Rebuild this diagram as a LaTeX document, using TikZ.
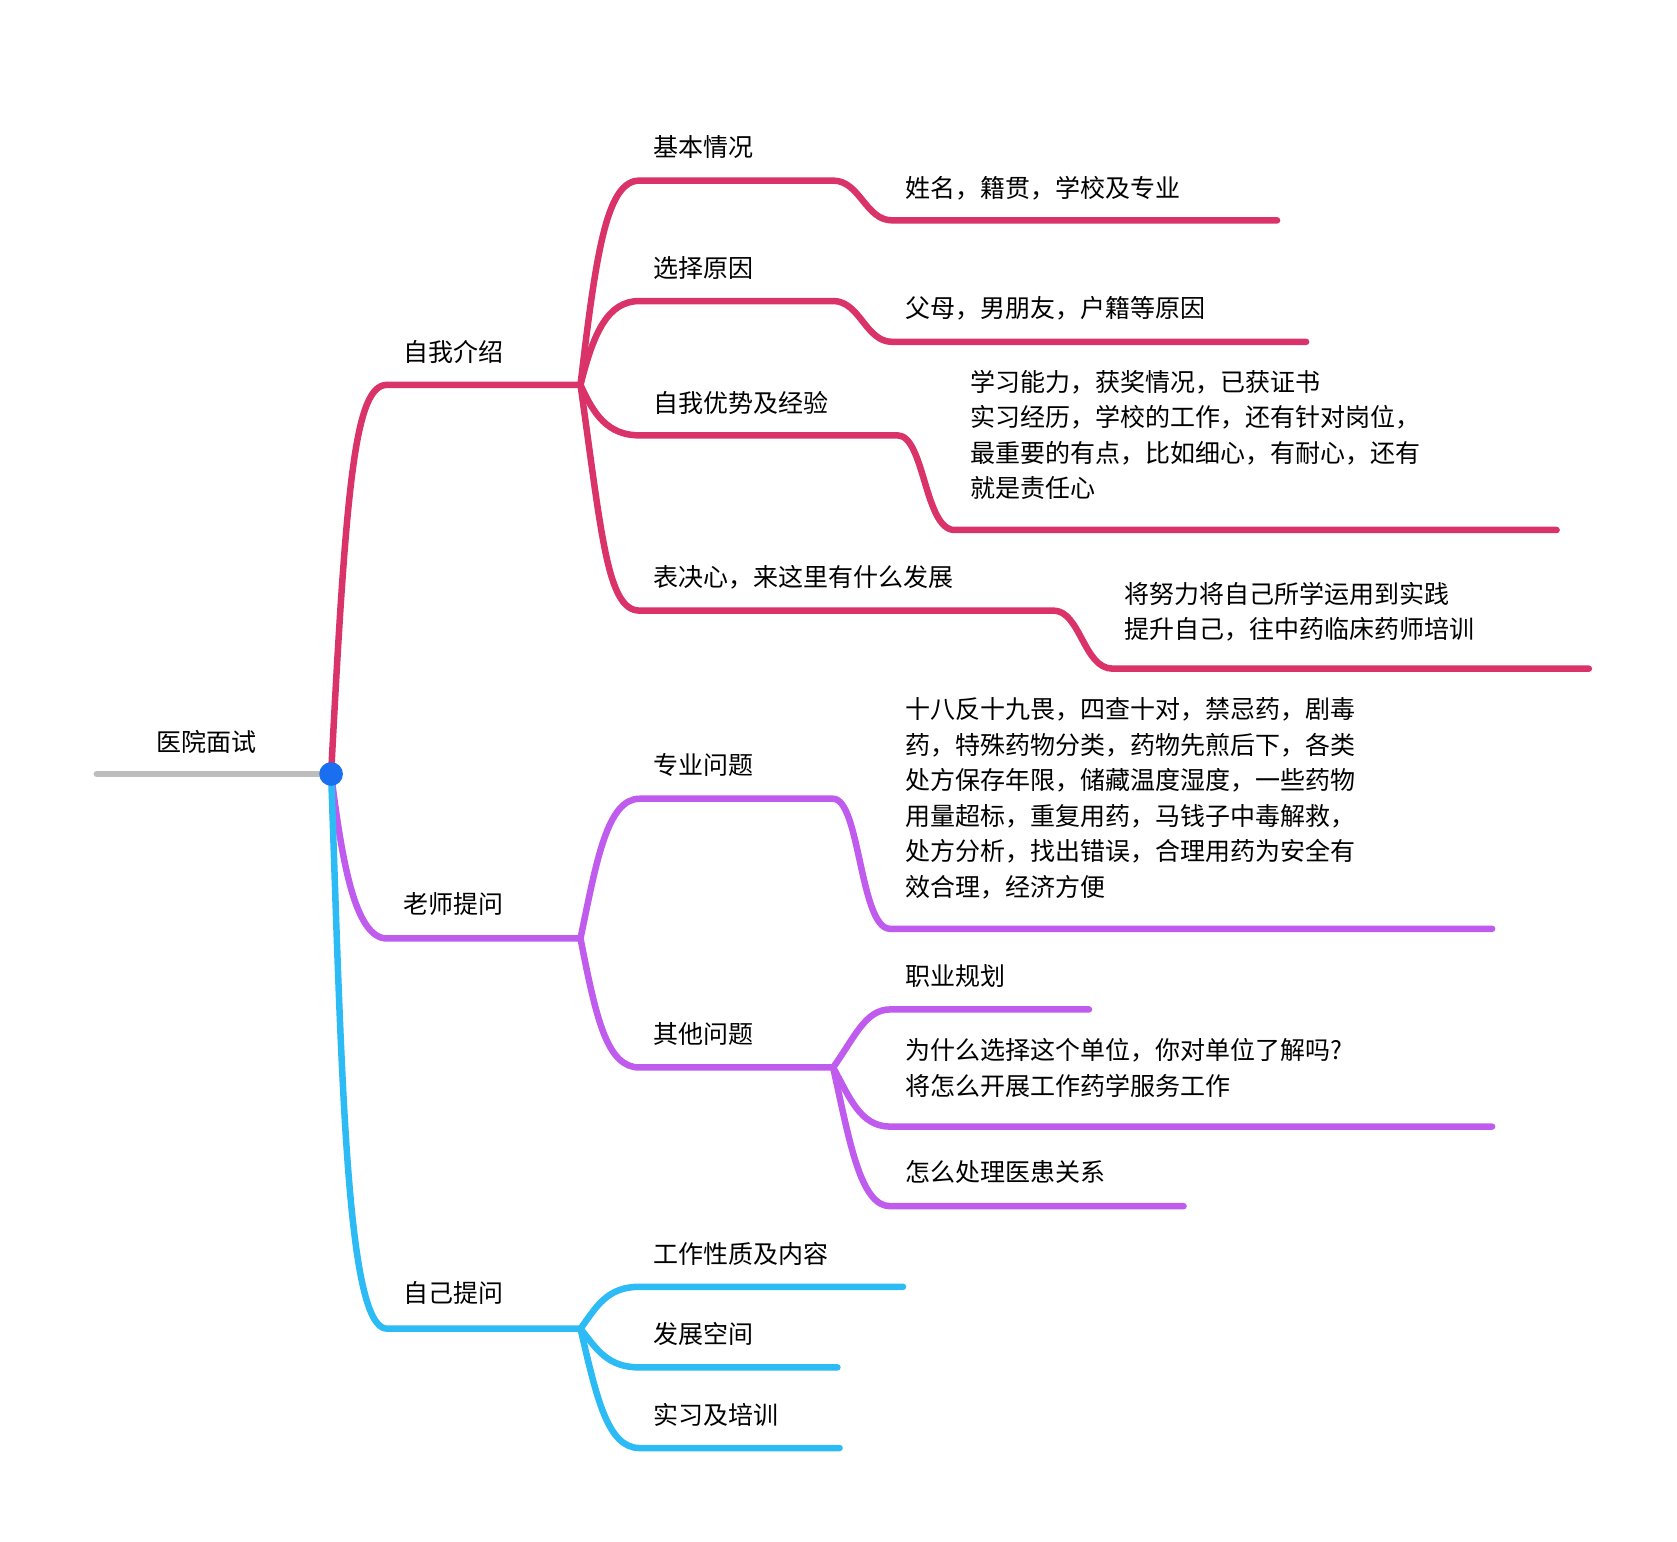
\documentclass[tikz,border=0pt]{standalone}
\usepackage{fontspec}
\newfontfamily\cjk{Noto Sans CJK SC}
\begin{document}
\begin{tikzpicture}[x=1.075pt,y=-1.075pt,
 br/.style={line width=6.5pt,line cap=round,line join=round},
 lbl/.style={font=\cjk\fontsize{25}{35.5}\selectfont,anchor=west,inner sep=0pt},
 ml/.style={lbl,anchor=north west,align=left}]
\useasboundingbox (0,0) rectangle (1560,1433.5);
\definecolor{pk}{HTML}{D9336A}\definecolor{pu}{HTML}{BF5CEE}
\definecolor{bl}{HTML}{2DBBF5}\definecolor{gr}{HTML}{BDBDBD}\definecolor{dt}{HTML}{1A6FF0}
% coordinates
\coordinate (r0) at (90,720); \coordinate (r) at (308,720);
\coordinate (a) at (540,358); \coordinate (b) at (540,873); \coordinate (c) at (540,1236);
\coordinate (o) at (775,993);
% root
\draw[br,gr] (r0) -- (r);
\node[lbl] (t0) at (145,690) {医院面试};
% level 1
\draw[br,pk] (r) .. controls (322,450) and (330,358) .. (360,358) -- (a);
\draw[br,pu] (r) .. controls (318,800) and (330,873) .. (360,873) -- (b);
\draw[br,bl] (r) .. controls (318,1000) and (322,1236) .. (360,1236) -- (c);
\node[lbl] (t1) at (375,327) {自我介绍};
\node[lbl] (t2) at (375,841) {老师提问};
\node[lbl] (t3) at (375,1203) {自己提问};
% 自我介绍
\draw[br,pk] (a) .. controls (555,230) and (565,168) .. (595,168) -- (775,168) .. controls (800,168) and (805,205) .. (830,205) -- (1188,205);
\draw[br,pk] (a) .. controls (552,310) and (565,280) .. (595,280) -- (775,280) .. controls (800,280) and (805,318) .. (830,318) -- (1215,318);
\draw[br,pk] (a) .. controls (552,385) and (565,405) .. (595,405) -- (835,405) .. controls (860,405) and (860,493) .. (888,493) -- (1448,493);
\draw[br,pk] (a) .. controls (560,500) and (565,568) .. (595,568) -- (980,568) .. controls (1005,568) and (1008,622) .. (1035,622) -- (1478,622);
\node[lbl] (t11) at (608,137) {基本情况};
\node[lbl] (t12) at (842,175) {姓名，籍贯，学校及专业};
\node[lbl] (t13) at (608,249) {选择原因};
\node[lbl] (t14) at (842,287) {父母，男朋友，户籍等原因};
\node[lbl] (t15) at (608,375) {自我优势及经验};
\node[ml] (t16) at (903,344) {学习能力，获奖情况，已获证书\\实习经历，学校的工作，还有针对岗位，\\最重要的有点，比如细心，有耐心，还有\\就是责任心};
\node[lbl] (t17) at (608,537) {表决心，来这里有什么发展};
\node[ml] (t18) at (1046,541) {将努力将自己所学运用到实践\\提升自己，往中药临床药师培训};
% 老师提问
\draw[br,pu] (b) .. controls (555,800) and (565,743) .. (595,743) -- (775,743) .. controls (800,743) and (800,864) .. (828,864) -- (1388,864);
\draw[br,pu] (b) .. controls (555,950) and (565,993) .. (595,993) -- (o);
\draw[br,pu] (o) .. controls (795,965) and (805,939) .. (828,939) -- (1013,939);
\draw[br,pu] (o) .. controls (790,1020) and (800,1048) .. (828,1048) -- (1388,1048);
\draw[br,pu] (o) .. controls (790,1060) and (800,1122) .. (828,1122) -- (1101,1122);
\node[lbl] (t21) at (608,712) {专业问题};
\node[ml] (t22) at (842,649) {十八反十九畏，四查十对，禁忌药，剧毒\\药，特殊药物分类，药物先煎后下，各类\\处方保存年限，储藏温度湿度，一些药物\\用量超标，重复用药，马钱子中毒解救，\\处方分析，找出错误，合理用药为安全有\\效合理，经济方便};
\node[lbl] (t23) at (608,962) {其他问题};
\node[lbl] (t24) at (842,908) {职业规划};
\node[ml] (t25) at (842,966) {为什么选择这个单位，你对单位了解吗?\\将怎么开展工作药学服务工作};
\node[lbl] (t26) at (842,1090) {怎么处理医患关系};
% 自己提问
\draw[br,bl] (c) .. controls (555,1215) and (565,1197) .. (595,1197) -- (840,1197);
\draw[br,bl] (c) .. controls (555,1255) and (565,1272) .. (595,1272) -- (779,1272);
\draw[br,bl] (c) .. controls (555,1300) and (565,1347) .. (595,1347) -- (781,1347);
\node[lbl] (t31) at (608,1166) {工作性质及内容};
\node[lbl] (t32) at (608,1241) {发展空间};
\node[lbl] (t33) at (608,1316) {实习及培训};
\fill[dt] (r) circle (11);
\end{tikzpicture}
\end{document}
